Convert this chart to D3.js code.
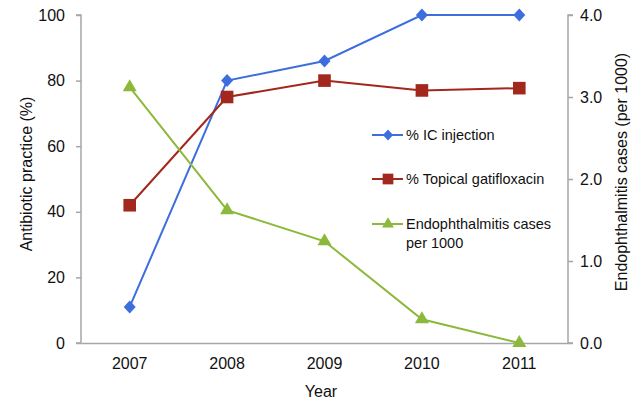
<!DOCTYPE html>
<html><head><meta charset="utf-8">
<script src="https://cdn.jsdelivr.net/npm/d3@7"></script>
<style>body{margin:0;background:#fff}svg{display:block;font-family:"Liberation Sans",Arial,sans-serif}</style>
</head><body><svg id="c" width="643" height="400"></svg>
<script>
const years = ["2007","2008","2009","2010","2011"];
const icInjection = [11, 80, 86, 100, 100];
const topicalGati = [42, 75, 80, 77, 77.7];
const endoCases = [3.12, 1.62, 1.24, 0.29, 0.0];
const leftTicks = [0, 20, 40, 60, 80, 100];
const rightTicks = [0, 1, 2, 3, 4];

const svg = d3.select("#c");
const L = 81, R = 568, T = 15, B = 343;
const x = d3.scaleBand().domain(years).range([L, R]);
const yL = d3.scaleLinear().domain([0, 100]).range([B, T]);
const yR = d3.scaleLinear().domain([0, 4]).range([B, T]);
const axisColor = "#a6a6a6";
const FONT = '"Liberation Sans",Arial,sans-serif';

const gx = svg.append("g").attr("transform", `translate(0,${B})`)
  .call(d3.axisBottom(x).tickSize(0).tickPadding(15));
const gl = svg.append("g").attr("transform", `translate(${L},0)`)
  .call(d3.axisLeft(yL).tickValues(leftTicks).tickSize(5).tickPadding(11));
const gr = svg.append("g").attr("transform", `translate(${R},0)`)
  .call(d3.axisRight(yR).tickValues(rightTicks).tickFormat(d3.format(".1f")).tickSize(5).tickPadding(7));
[gx, gl, gr].forEach(g => {
  g.select(".domain").attr("stroke", axisColor).attr("stroke-width", 1.5);
  g.selectAll(".tick line").attr("stroke", axisColor).attr("stroke-width", 1.5);
  g.selectAll("text").attr("fill", "#111").style("font-size", "16px").style("font-family", FONT);
});
gl.select(".domain").attr("d", `M-5,${T}H0V${B}H-5`);
gr.select(".domain").attr("d", `M5,${T}H0V${B}H5`);

svg.append("text").attr("x", 321).attr("y", 397).attr("text-anchor", "middle")
  .style("font-size", "16px").attr("fill", "#111").text("Year");
svg.append("text").attr("transform", `translate(32,174) rotate(-90)`).attr("text-anchor", "middle")
  .style("font-size", "16px").attr("fill", "#111").text("Antibiotic practice (%)");
svg.append("text").attr("transform", `translate(627,172) rotate(-90)`).attr("text-anchor", "middle")
  .style("font-size", "16px").attr("fill", "#111").text("Endophthalmitis cases (per 1000)");

const shapes = {
  diamond: (w, h) => `M0,${-h}L${w},0L0,${h}L${-w},0Z`,
  square: (w) => `M${-w},${-w}H${w}V${w}H${-w}Z`,
  triangle: (w, h) => `M0,${-h * 2 / 3}L${w},${h / 3}L${-w},${h / 3}Z`
};
const cx = d => x(d) + x.bandwidth() / 2;
const series = [
  {vals: icInjection, y: yL, color: "#3d6ede", mk: k => shapes.diamond(6 * k, 6.5 * k)},
  {vals: topicalGati, y: yL, color: "#a2281d", mk: k => shapes.square(6.3 * k)},
  {vals: endoCases, y: yR, color: "#8cb83b", mk: k => shapes.triangle(7 * k, 12 * k)}
];
series.forEach(s => {
  const pts = years.map((yr, i) => [cx(yr), s.y(s.vals[i])]);
  svg.append("path").attr("d", d3.line()(pts)).attr("fill", "none").attr("stroke", s.color).attr("stroke-width", 2);
  svg.append("g").selectAll("path").data(pts).join("path")
    .attr("transform", d => `translate(${d[0]},${d[1]})`)
    .attr("d", s.mk(1)).attr("fill", s.color);
});

// legend
const legY = [135, 179, 224];
const legText = [["% IC injection"], ["% Topical gatifloxacin"], ["Endophthalmitis cases", "per 1000"]];
series.forEach((s, i) => {
  const g = svg.append("g").attr("transform", `translate(0,${legY[i]})`);
  g.append("line").attr("x1", 372).attr("x2", 403).attr("stroke", s.color).attr("stroke-width", 2);
  g.append("path").attr("transform", "translate(388,0)").attr("d", s.mk(0.85)).attr("fill", s.color);
  legText[i].forEach((t, j) => {
    g.append("text").attr("x", 406).attr("y", j * 19).attr("dy", "0.35em")
      .style("font-size", "14.5px").attr("fill", "#111").text(t);
  });
});
</script></body></html>
